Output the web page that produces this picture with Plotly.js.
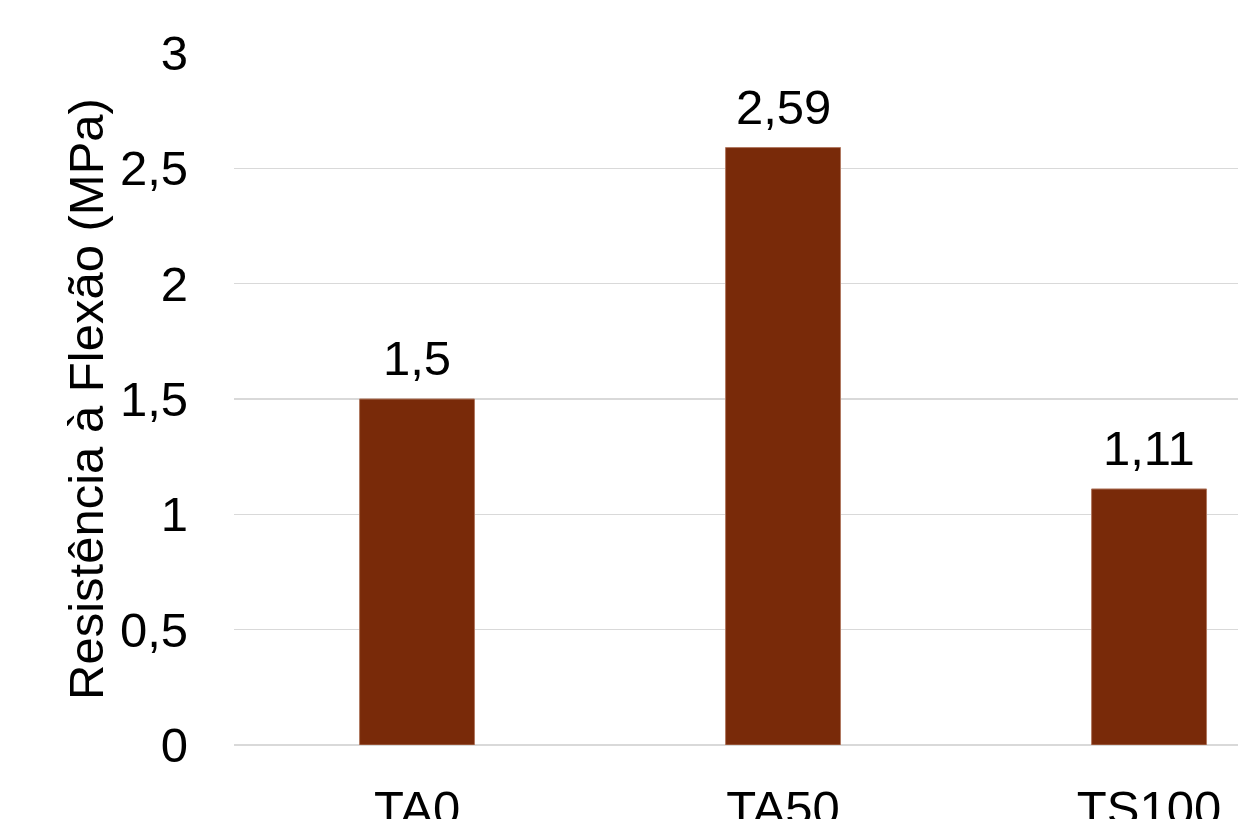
<!DOCTYPE html>
<html><head><meta charset="utf-8">
<script src="https://cdn.plot.ly/plotly-3.0.1.min.js"></script>
<style>html,body{margin:0;padding:0;overflow:hidden;background:#fff}</style>
</head><body><div id="chart"></div>
<script>
const categories = ["TA0", "TA50", "TS100"];
const values = [1.5, 2.59, 1.11];
const yTickVals = [0, 0.5, 1, 1.5, 2, 2.5, 3];
const yTitle = "Resistência à Flexão (MPa)";

const FONT = '"Liberation Sans Narrow", "Arial Narrow", "Liberation Sans", sans-serif';
const SZ = 49;
const trace = {
  type: 'bar', x: categories, y: values,
  width: 0.314,
  marker: {color: '#792a09', line: {color: '#b07860', width: 1}},
  hoverinfo: 'none'
};
const annotations = categories.map((c, i) => ({
  x: c, y: values[i], xref: 'x', yref: 'y',
  text: String(values[i]).replace('.', ','),
  showarrow: false, yanchor: 'bottom', yshift: 12,
  font: {family: FONT, size: SZ, color: '#000'}
}));
const layout = {
  width: 1238, height: 900,
  margin: {l: 234, r: 0, t: 53, b: 155},
  separators: ',.',
  paper_bgcolor: '#fff', plot_bgcolor: '#fff',
  font: {family: FONT, size: SZ, color: '#000'},
  showlegend: false,
  annotations: annotations,
  xaxis: {type: 'category', range: [-0.5, 2.243], showgrid: false, showline: false, ticks: '',
          tickfont: {family: FONT, size: SZ, color: '#000'}, ticklabelstandoff: 30},
  yaxis: {range: [0, 3], tickvals: yTickVals, showgrid: true, gridcolor: '#d9d9d9', gridwidth: 1.5,
          zeroline: true, zerolinecolor: '#d9d9d9', zerolinewidth: 1.5, showline: false, ticks: '',
          tickfont: {family: FONT, size: SZ, color: '#000'}, ticklabelstandoff: 45,
          title: {text: yTitle, font: {family: FONT, size: SZ, color: '#000'}, standoff: 0}}
};
Plotly.newPlot('chart', [trace], layout, {displayModeBar: false, staticPlot: true});
</script></body></html>
